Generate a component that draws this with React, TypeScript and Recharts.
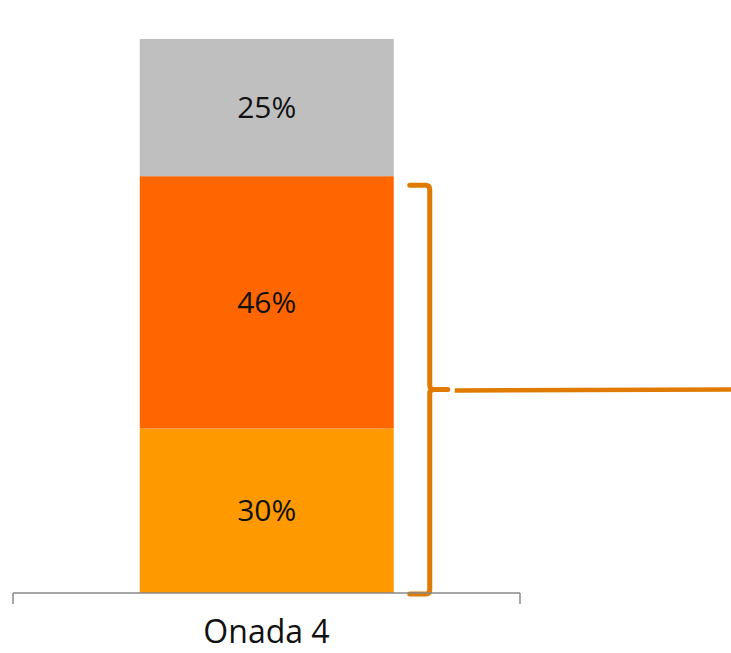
import { BarChart, Bar, XAxis, YAxis, LabelList } from 'recharts';

const categories = ['Onada 4'];
const baixValues = [30];
const migValues = [46];
const altValues = [25];

const data = categories.map((c, i) => ({
  onada: c,
  baix: baixValues[i],
  mig: migValues[i],
  alt: altValues[i],
}));

const FONT = "'Open Sans', sans-serif";
const BRACKET = '#E07B00';

function OnadaTick(props: any) {
  const { x, y, width, payload } = props;
  const left = x - width / 2;
  const right = x + width / 2;
  return (
    <g>
      <line x1={left} y1={y} x2={left} y2={y + 11} stroke="#898989" strokeWidth={1.5} />
      <line x1={right} y1={y} x2={right} y2={y + 11} stroke="#898989" strokeWidth={1.5} />
      <text x={x} y={y + 50} textAnchor="middle" fontSize={32} fontFamily={FONT} fill="#111">
        {payload.value}
      </text>
    </g>
  );
}

// bracket spanning the two orange segments, drawn from the middle segment's geometry
function MigShape(props: any) {
  const { x, y, width, height, fill, payload } = props;
  const k = height / payload.mig;
  const top = y + 9;
  const bot = y + height + payload.baix * k + 1;
  const vx = x + width + 36;
  const mid = (top + bot) / 2;
  return (
    <g>
      <rect x={x} y={y} width={width} height={height} fill={fill} />
      <path
        d={`M${vx - 20},${top} L${vx - 4},${top} Q${vx},${top} ${vx},${top + 4} L${vx},${mid - 4} Q${vx},${mid} ${vx + 4},${mid} L${vx + 18},${mid} M${vx + 4},${mid} Q${vx},${mid} ${vx},${mid + 4} L${vx},${bot - 4} Q${vx},${bot} ${vx - 4},${bot} L${vx - 20},${bot}`}
        fill="none"
        stroke={BRACKET}
        strokeWidth={5}
        strokeLinecap="round"
      />
      <line x1={vx + 25} y1={mid + 1} x2={731} y2={mid} stroke={BRACKET} strokeWidth={4.5} />
    </g>
  );
}

const labelStyle = { fontSize: 30, fontFamily: FONT, fill: '#111' };

export default function App() {
  return (
    <div style={{ position: 'fixed', left: 0, top: 0, background: '#fff' }}>
      <BarChart
        width={731}
        height={653}
        data={data}
        margin={{ top: 39, right: 211, left: 13, bottom: 0 }}
        barCategoryGap="25%"
      >
        <XAxis
          dataKey="onada"
          height={60}
          tickSize={0}
          tickMargin={0}
          tickLine={false}
          axisLine={{ stroke: '#898989', strokeWidth: 1.5 }}
          tick={<OnadaTick />}
        />
        <YAxis hide domain={[0, 101]} />
        <Bar dataKey="baix" stackId="a" fill="#FF9900" isAnimationActive={false}>
          <LabelList dataKey="baix" position="center" formatter={(v: any) => `${v}%`} style={labelStyle} />
        </Bar>
        <Bar dataKey="mig" stackId="a" fill="#FF6600" shape={<MigShape />} isAnimationActive={false}>
          <LabelList dataKey="mig" position="center" formatter={(v: any) => `${v}%`} style={labelStyle} />
        </Bar>
        <Bar dataKey="alt" stackId="a" fill="#BFBFBF" isAnimationActive={false}>
          <LabelList dataKey="alt" position="center" formatter={(v: any) => `${v}%`} style={labelStyle} />
        </Bar>
      </BarChart>
    </div>
  );
}
